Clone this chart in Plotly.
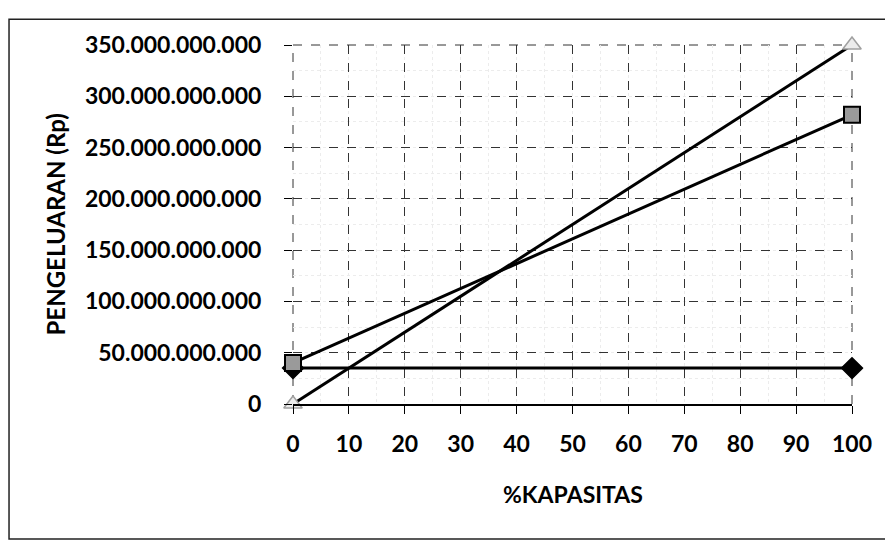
import plotly.graph_objects as go

kapasitas = [0, 100]
biaya_tetap = [35e9, 35e9]
biaya_total = [40e9, 282e9]
pendapatan = [0, 350e9]

x_ticks = list(range(0, 101, 10))
y_ticks = [0, 50e9, 100e9, 150e9, 200e9, 250e9, 300e9, 350e9]

FONT = "Lato"

fig = go.Figure()
fig.add_trace(go.Scatter(
    x=kapasitas, y=biaya_tetap, mode="lines+markers", name="Biaya Tetap",
    cliponaxis=False,
    line=dict(color="black", width=3),
    marker=dict(symbol="diamond", size=16, color="black",
                line=dict(color="black", width=1.5))))
fig.add_trace(go.Scatter(
    x=kapasitas, y=biaya_total, mode="lines+markers", name="Biaya Total",
    cliponaxis=False,
    line=dict(color="black", width=3),
    marker=dict(symbol="square", size=16, color="#9a9a9a",
                line=dict(color="black", width=2))))
fig.add_trace(go.Scatter(
    x=kapasitas, y=pendapatan, mode="lines+markers", name="Pendapatan",
    cliponaxis=False,
    line=dict(color="black", width=3),
    marker=dict(symbol="triangle-up", size=16, color="#ececec",
                line=dict(color="#a0a0a0", width=1.5))))

# outer chart border (paper coords relative to plot area)
fig.add_shape(type="rect", xref="paper", yref="paper",
              x0=-0.508, x1=1.068, y0=-0.376, y1=1.072,
              line=dict(color="#222222", width=1.5), layer="below")
# plot-area edges drawn like the dashed gridlines
for x0, x1, y0, y1 in [(0, 0, 0, 1), (1, 1, 0, 1), (0, 1, 1, 1)]:
    fig.add_shape(type="line", xref="paper", yref="paper",
                  x0=x0, x1=x1, y0=y0, y1=y1,
                  line=dict(color="#333333", width=1, dash="dash"), layer="below")

fig.add_annotation(text="<b>PENGELUARAN (Rp)</b>", xref="paper", yref="paper",
                   x=-0.424, y=0.5, xanchor="center", yanchor="middle",
                   textangle=-90, showarrow=False,
                   font=dict(size=24, family=FONT, color="black"))
fig.add_annotation(text="<b>%KAPASITAS</b>", xref="paper", yref="paper",
                   x=0.5, y=-0.251, xanchor="center", yanchor="middle",
                   showarrow=False,
                   font=dict(size=23, family=FONT, color="black"))

fig.update_layout(
    width=885, height=535,
    margin=dict(l=285, r=41, t=37, b=139),
    paper_bgcolor="white", plot_bgcolor="white",
    separators=",.",
    showlegend=False,
    font=dict(family=FONT, color="black"),
    xaxis=dict(
        range=[0, 100], tickvals=x_ticks, ticktext=[str(v) for v in x_ticks],
        showgrid=True, gridcolor="#333333", griddash="dash", gridwidth=1,
        minor=dict(dtick=5, showgrid=True, gridcolor="#ececec", griddash="dot"),
        showline=True, linecolor="black", linewidth=2,
        ticks="outside", ticklen=8, tickcolor="black",
        ticklabelstandoff=10,
        tickfont=dict(size=23, family=FONT, weight="bold"),
        zeroline=False,
    ),
    yaxis=dict(
        range=[0, 350e9], tickvals=y_ticks, tickformat=",d",
        showgrid=True, gridcolor="#333333", griddash="dash", gridwidth=1,
        minor=dict(dtick=25e9, showgrid=True, gridcolor="#ececec", griddash="dot"),
        showline=False,
        ticks="outside", ticklen=8, tickcolor="black",
        ticklabelstandoff=18,
        tickfont=dict(size=23, family=FONT, weight="bold"),
        zeroline=False,
    ),
)

fig.write_html("out.html")
